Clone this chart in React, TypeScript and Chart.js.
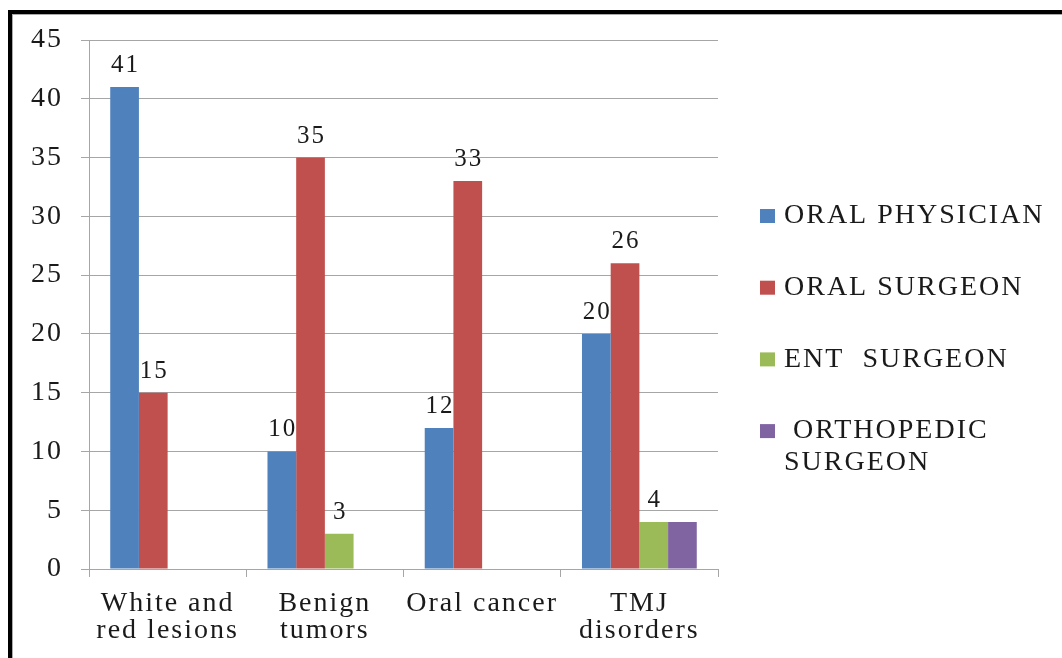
import React, { useEffect, useRef } from 'react';
import { Chart, registerables } from 'chart.js';

Chart.register(...registerables);

const categories: string[][] = [['White and', 'red lesions'], ['Benign', 'tumors'], ['Oral cancer'], ['TMJ', 'disorders']];
const seriesNames = ['ORAL PHYSICIAN', 'ORAL SURGEON', 'ENT  SURGEON', 'ORTHOPEDIC SURGEON'];
const legendLines: string[][] = [['ORAL PHYSICIAN'], ['ORAL SURGEON'], ['ENT  SURGEON'], [' ORTHOPEDIC', 'SURGEON']];
const oralPhysician = [41, 10, 12, 20];
const oralSurgeon = [15, 35, 33, 26];
const entSurgeon = [0, 3, 0, 4];
const orthopedicSurgeon = [0, 0, 0, 4];
const showValueLabels = [true, true, true, false];
const seriesColors = ['#4F81BD', '#C0504D', '#9BBB59', '#8064A2'];
const yMin = 0;
const yMax = 45;
const yStep = 5;

const FONT = "'Liberation Serif', 'Times New Roman', serif";
const TEXT_COLOR = '#1a1a1a';
const GRID = '#a6a6a6';
const LS = '2px';

const spacingPlugin = {
  id: 'spacing',
  beforeUpdate(chart: any) { chart.ctx.letterSpacing = LS; },
  beforeLayout(chart: any) { chart.ctx.letterSpacing = LS; },
  beforeDraw(chart: any) { chart.ctx.letterSpacing = LS; },
};

const valueLabelPlugin = {
  id: 'valueLabels',
  afterDatasetsDraw(chart: any) {
    const ctx = chart.ctx;
    ctx.save();
    ctx.letterSpacing = LS;
    ctx.font = `25px ${FONT}`;
    ctx.fillStyle = TEXT_COLOR;
    ctx.textAlign = 'center';
    ctx.textBaseline = 'alphabetic';
    chart.data.datasets.forEach((ds: any, i: number) => {
      if (!showValueLabels[i]) return;
      const meta = chart.getDatasetMeta(i);
      meta.data.forEach((bar: any, j: number) => {
        const v = ds.data[j];
        if (!v) return;
        ctx.fillText(String(v), bar.x + 1, bar.y - 15);
      });
    });
    ctx.restore();
  },
};

const legendPlugin = {
  id: 'customLegend',
  afterDraw(chart: any) {
    const ctx = chart.ctx;
    const area = chart.chartArea;
    ctx.save();
    ctx.letterSpacing = LS;
    ctx.font = `28px ${FONT}`;
    ctx.textAlign = 'left';
    ctx.textBaseline = 'middle';
    const boxX = area.right + 42;
    const textX = area.right + 66;
    legendLines.forEach((lines, i) => {
      const cy = area.top + 176 + i * 71.7;
      ctx.fillStyle = seriesColors[i];
      ctx.fillRect(boxX, cy - 7, 15, 14);
      ctx.fillStyle = TEXT_COLOR;
      lines.forEach((ln, k) => {
        ctx.fillText(ln, textX, cy + k * 32);
      });
    });
    ctx.restore();
  },
};

export default function App() {
  const ref = useRef<HTMLCanvasElement | null>(null);
  useEffect(() => {
    if (!ref.current) return;
    const values = [oralPhysician, oralSurgeon, entSurgeon, orthopedicSurgeon];
    const chart = new Chart(ref.current, {
      type: 'bar',
      data: {
        labels: categories,
        datasets: seriesNames.map((name, i) => ({
          label: name,
          data: values[i],
          backgroundColor: seriesColors[i],
          borderWidth: 0,
          categoryPercentage: 0.73,
          barPercentage: 1.0,
        })),
      },
      options: {
        responsive: false,
        animation: false,
        devicePixelRatio: 1,
        layout: { padding: { left: 0, top: 25, right: 344, bottom: 0 } },
        plugins: {
          legend: { display: false },
          tooltip: { enabled: false },
        },
        scales: {
          x: {
            offset: true,
            grid: { drawOnChartArea: false, drawTicks: true, tickLength: 8, color: GRID, tickColor: GRID },
            border: { display: true, color: GRID, width: 1 },
            ticks: {
              color: TEXT_COLOR,
              padding: 13,
              maxRotation: 0,
              autoSkip: false,
              font: { family: FONT, size: 28, lineHeight: 0.97 },
            },
            afterFit(scale: any) { scale.height = 89; },
          },
          y: {
            min: yMin,
            max: yMax,
            grid: { color: GRID, tickColor: GRID, tickLength: 8, lineWidth: 1 },
            border: { display: true, color: GRID, width: 1 },
            ticks: {
              stepSize: yStep,
              color: TEXT_COLOR,
              padding: 18,
              font: { family: FONT, size: 28, lineHeight: 0.4 },
            },
            afterFit(scale: any) { scale.width = 76; },
          },
        },
      },
      plugins: [spacingPlugin, valueLabelPlugin, legendPlugin],
    });
    return () => chart.destroy();
  }, []);

  return (
    <div
      style={{
        position: 'fixed',
        left: 8,
        top: 10,
        right: 0,
        bottom: 0,
        borderTop: '4px solid #000',
        borderLeft: '4px solid #000',
        background: '#fff',
        overflow: 'hidden',
      }}
    >
      <div style={{ borderTop: '1px solid #aaa', borderLeft: '1px solid #aaa', width: '100%', height: '100%' }}>
        <canvas ref={ref} width={1049} height={643} style={{ display: 'block' }} />
      </div>
    </div>
  );
}
